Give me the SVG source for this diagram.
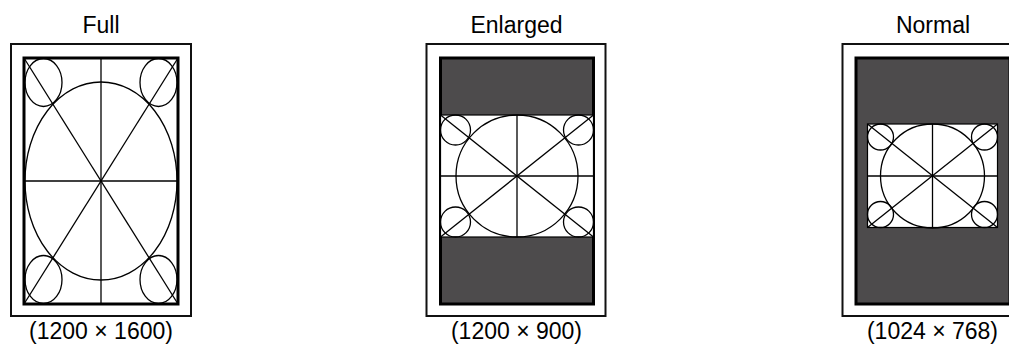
<svg xmlns="http://www.w3.org/2000/svg" width="1009" height="344" viewBox="0 0 1009 344">
  <style>
    .label { font-family: "Liberation Sans", Arial, sans-serif; font-size: 23px; fill: #000; text-anchor: middle; }
    .outer { fill: #fff; stroke: #111; stroke-width: 2; }
    .inner { fill: #fff; stroke: #000; stroke-width: 3; }
    .innerdark { fill: #4d4b4c; stroke: #000; stroke-width: 3; }
    .pat { fill: #fff; stroke: #000; stroke-width: 1.2; }
    .ln { fill: none; stroke: #000; stroke-width: 1.3; }
  </style>
  <rect width="1009" height="344" fill="#fff"/>

  <g id="full">
    <text class="label" x="101" y="32.5">Full</text>
    <rect class="outer" x="11" y="44" width="180" height="272"/>
    <rect class="inner" x="24" y="58" width="154" height="246"/>
    <g class="ln">
      <ellipse cx="101" cy="181" rx="76" ry="99"/>
      <ellipse cx="43.5" cy="82.5" rx="18.5" ry="24"/>
      <ellipse cx="158.5" cy="82.5" rx="18.5" ry="24"/>
      <ellipse cx="43.5" cy="279.5" rx="18.5" ry="24"/>
      <ellipse cx="158.5" cy="279.5" rx="18.5" ry="24"/>
      <line x1="101" y1="58" x2="101" y2="304"/>
      <line x1="24" y1="181" x2="178" y2="181"/>
      <line x1="24" y1="58" x2="178" y2="304"/>
      <line x1="178" y1="58" x2="24" y2="304"/>
    </g>
    <text class="label" x="101" y="339">(1200 × 1600)</text>
  </g>

  <g id="enlarged">
    <text class="label" x="516.5" y="32.5">Enlarged</text>
    <rect class="outer" x="426.5" y="44" width="179" height="272"/>
    <rect class="innerdark" x="440.5" y="58" width="153" height="246"/>
    <rect class="pat" x="440.5" y="115" width="153" height="122"/>
    <g class="ln">
      <circle cx="517" cy="176" r="61"/>
      <circle cx="455.5" cy="130" r="15"/>
      <circle cx="578.5" cy="130" r="15"/>
      <circle cx="455.5" cy="222" r="15"/>
      <circle cx="578.5" cy="222" r="15"/>
      <line x1="517" y1="115" x2="517" y2="237"/>
      <line x1="440.5" y1="176" x2="593.5" y2="176"/>
      <line x1="440.5" y1="115" x2="593.5" y2="237"/>
      <line x1="593.5" y1="115" x2="440.5" y2="237"/>
    </g>
    <text class="label" x="516.5" y="339">(1200 × 900)</text>
  </g>

  <g id="normal">
    <text class="label" x="933" y="32.5">Normal</text>
    <rect class="outer" x="842.5" y="44" width="180" height="272"/>
    <rect class="innerdark" x="856" y="58" width="154" height="246"/>
    <rect class="pat" x="867.5" y="124" width="130" height="103.5"/>
    <g class="ln">
      <circle cx="932.5" cy="176" r="52"/>
      <circle cx="880.5" cy="137" r="13"/>
      <circle cx="984.5" cy="137" r="13"/>
      <circle cx="880.5" cy="214.5" r="13"/>
      <circle cx="984.5" cy="214.5" r="13"/>
      <line x1="932.5" y1="124" x2="932.5" y2="227.5"/>
      <line x1="867.5" y1="176" x2="997.5" y2="176"/>
      <line x1="867.5" y1="124" x2="997.5" y2="227.5"/>
      <line x1="997.5" y1="124" x2="867.5" y2="227.5"/>
    </g>
    <text class="label" x="932.5" y="339">(1024 × 768)</text>
  </g>

  <g id="connectors"></g>
</svg>
